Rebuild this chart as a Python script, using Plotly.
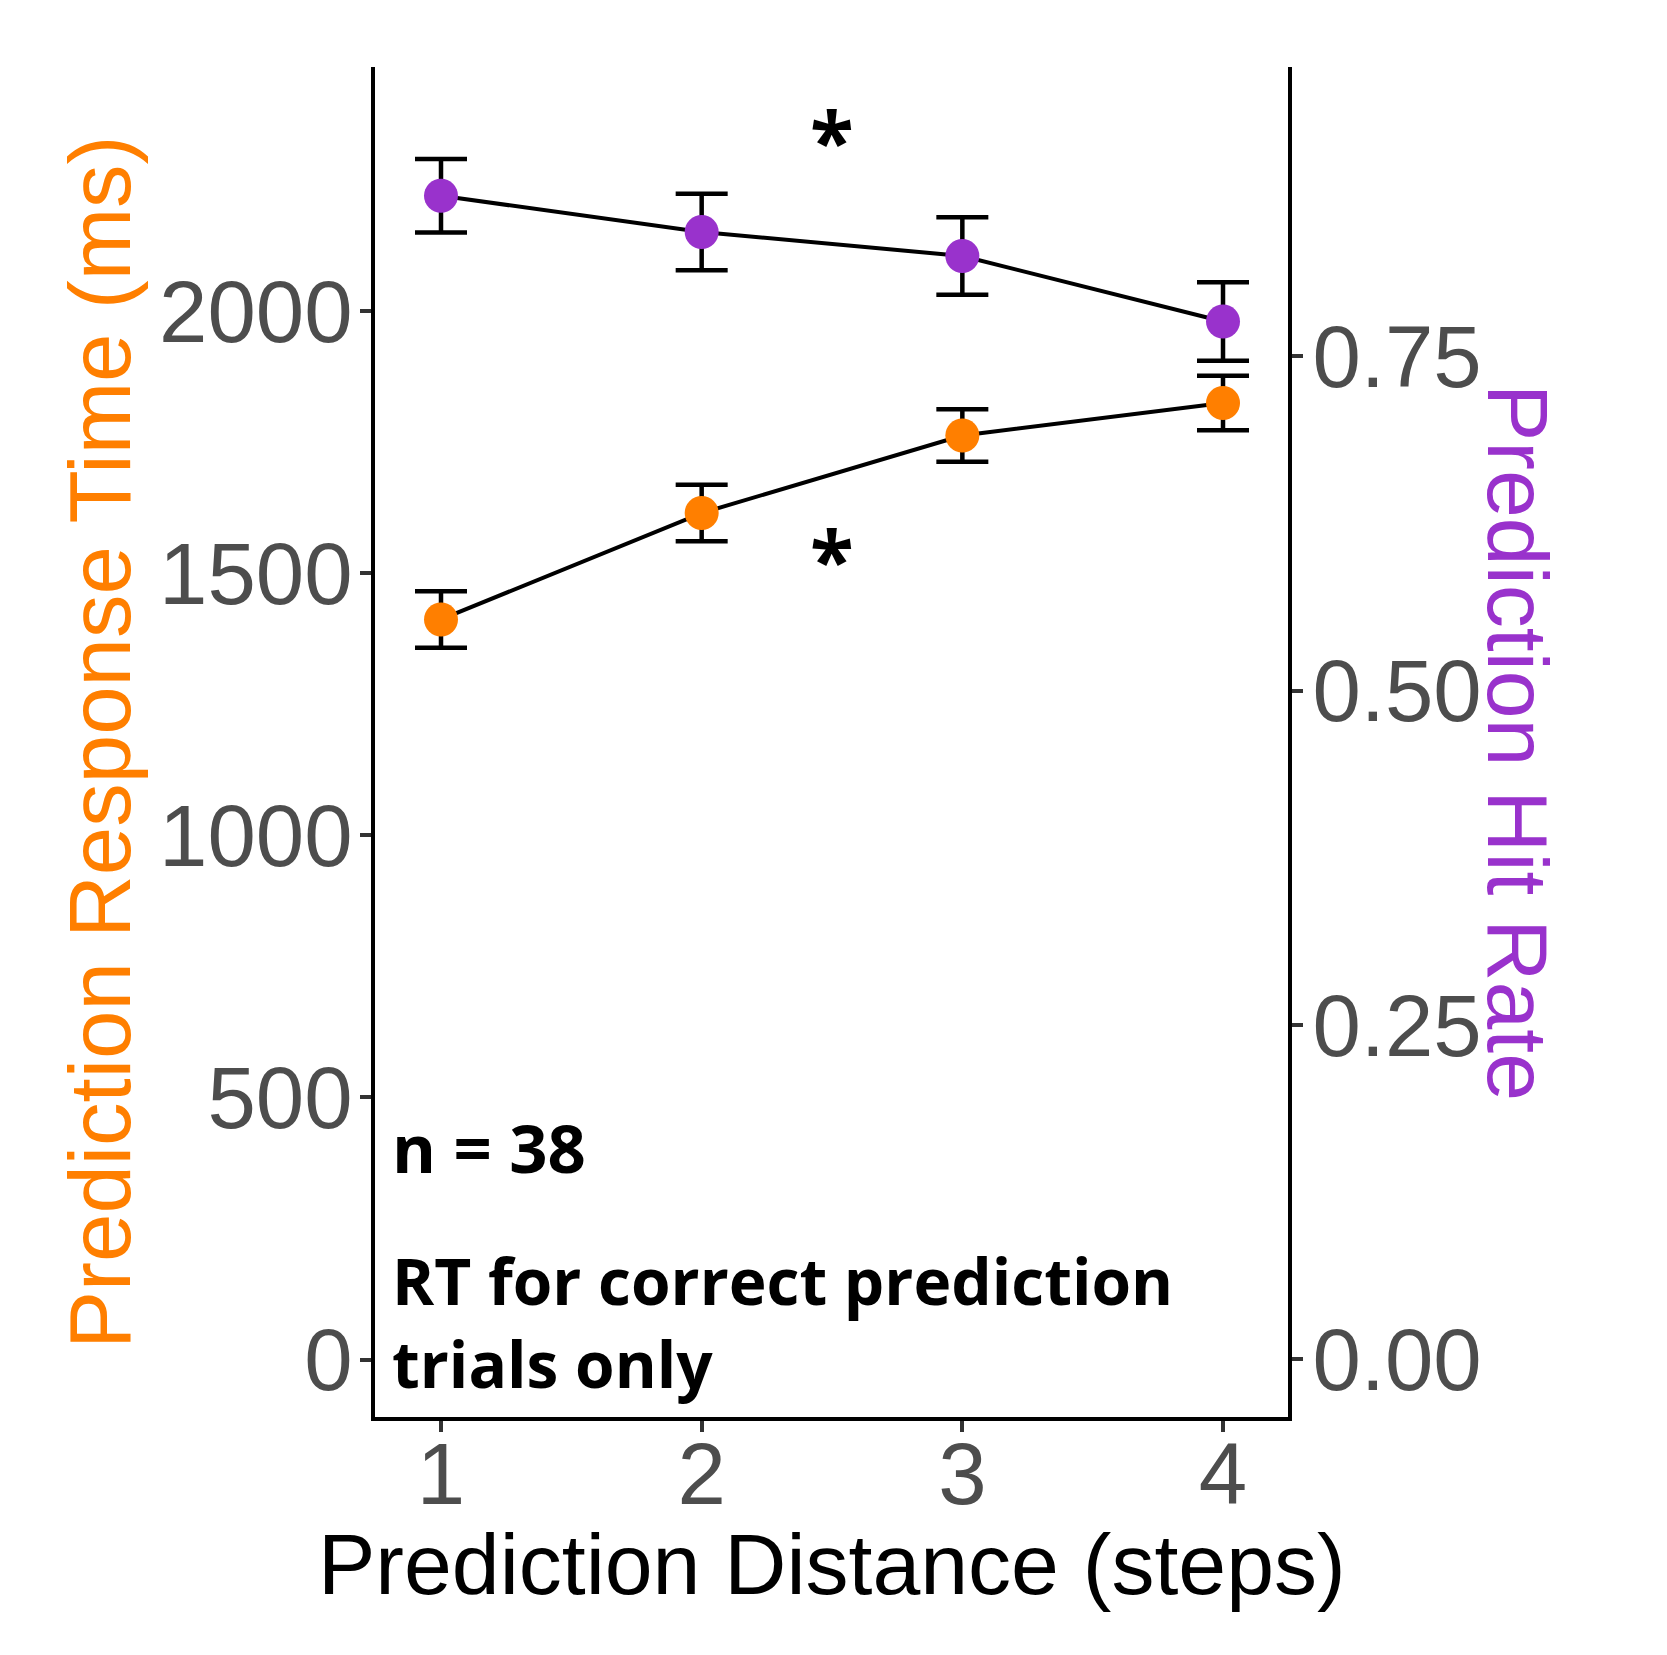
import plotly.graph_objects as go

# ---- data ----
steps = [1, 2, 3, 4]
rt_mean = [1412, 1615, 1763, 1825]          # Prediction response time (ms)
rt_se = [54, 54, 50, 52]
hit_mean = [0.870, 0.843, 0.825, 0.776]     # Prediction hit rate
hit_se = [0.0275, 0.0286, 0.0290, 0.0294]

x_tick_vals = [1, 2, 3, 4]
rt_tick_vals = [0, 500, 1000, 1500, 2000]
hit_tick_vals = [0.0, 0.25, 0.50, 0.75]
hit_tick_text = ["0.00", "0.25", "0.50", "0.75"]

star_x = [2.5, 2.5]
star_rt = [2330, 1530]

n_label = "n = 38"
note_lines = ["RT for correct prediction", "trials only"]

ORANGE = "#FF7F00"
PURPLE = "#9932CC"
GREY = "#4D4D4D"
TITLE_FONT = "Liberation Sans, Arial, Helvetica, sans-serif"
NOTE_FONT = "Open Sans, Noto Sans, sans-serif"

fig = go.Figure()

err_style = dict(type="data", visible=True, color="black", thickness=4.5, width=26)

fig.add_trace(go.Scatter(
    x=steps, y=rt_mean, yaxis="y", mode="lines+markers",
    line=dict(color="black", width=4),
    marker=dict(color=ORANGE, size=34, line=dict(width=0)),
    error_y=dict(array=rt_se, **err_style),
    showlegend=False,
))
fig.add_trace(go.Scatter(
    x=steps, y=hit_mean, yaxis="y2", mode="lines+markers",
    line=dict(color="black", width=4),
    marker=dict(color=PURPLE, size=34, line=dict(width=0)),
    error_y=dict(array=hit_se, **err_style),
    showlegend=False,
))

axis_common = dict(
    showgrid=False, zeroline=False, showline=True, linecolor="black", linewidth=4,
    ticks="outside", ticklen=11, tickwidth=4, tickcolor="#333333",
    tickfont=dict(family=TITLE_FONT, size=87, color=GREY),
)

fig.update_layout(
    width=1667, height=1655,
    margin=dict(l=375, r=379, t=67, b=238, autoexpand=False),
    plot_bgcolor="white", paper_bgcolor="white",
    xaxis=dict(range=[0.7468, 4.2493], tickvals=x_tick_vals, ticklabelstandoff=-32,
               **axis_common),
    yaxis=dict(range=[-109.7, 2466], tickvals=rt_tick_vals, ticklabelstandoff=-10,
               **axis_common),
    yaxis2=dict(range=[-0.0430, 0.9663], tickvals=hit_tick_vals, ticktext=hit_tick_text,
                overlaying="y", side="right", ticklabelstandoff=-8, **axis_common),
    showlegend=False,
)

annotations = [
    # axis titles
    dict(text="Prediction Distance (steps)", xref="paper", yref="paper", x=0.5, y=0,
         xanchor="center", yanchor="middle", yshift=-147, showarrow=False,
         font=dict(family=TITLE_FONT, size=86, color="black")),
    dict(text="Prediction Response Time (ms)", xref="paper", yref="paper", x=0, y=0.5,
         xanchor="center", yanchor="middle", xshift=-276, textangle=-90, showarrow=False,
         font=dict(family=TITLE_FONT, size=87, color=ORANGE)),
    dict(text="Prediction Hit Rate", xref="paper", yref="paper", x=1, y=0.5,
         xanchor="center", yanchor="middle", xshift=230, textangle=90, showarrow=False,
         font=dict(family=TITLE_FONT, size=86, color=PURPLE)),
    # notes
    dict(text=n_label, xref="x", yref="y", x=0.805, y=405, xanchor="left", yanchor="middle",
         showarrow=False, font=dict(family=NOTE_FONT, size=67, color="black", weight="bold")),
    dict(text=note_lines[0], xref="x", yref="y", x=0.805, y=150, xanchor="left", yanchor="middle",
         showarrow=False, font=dict(family=NOTE_FONT, size=64, color="black", weight="bold")),
    dict(text=note_lines[1], xref="x", yref="y", x=0.805, y=-8, xanchor="left", yanchor="middle",
         showarrow=False, font=dict(family=NOTE_FONT, size=64, color="black", weight="bold")),
]
for sx, sy in zip(star_x, star_rt):
    annotations.append(dict(text="*", xref="x", yref="y", x=sx, y=sy, xanchor="center",
                            yanchor="middle", showarrow=False,
                            font=dict(family=NOTE_FONT, size=80, color="black", weight="bold")))
fig.update_layout(annotations=annotations)

fig.write_html("out.html")
